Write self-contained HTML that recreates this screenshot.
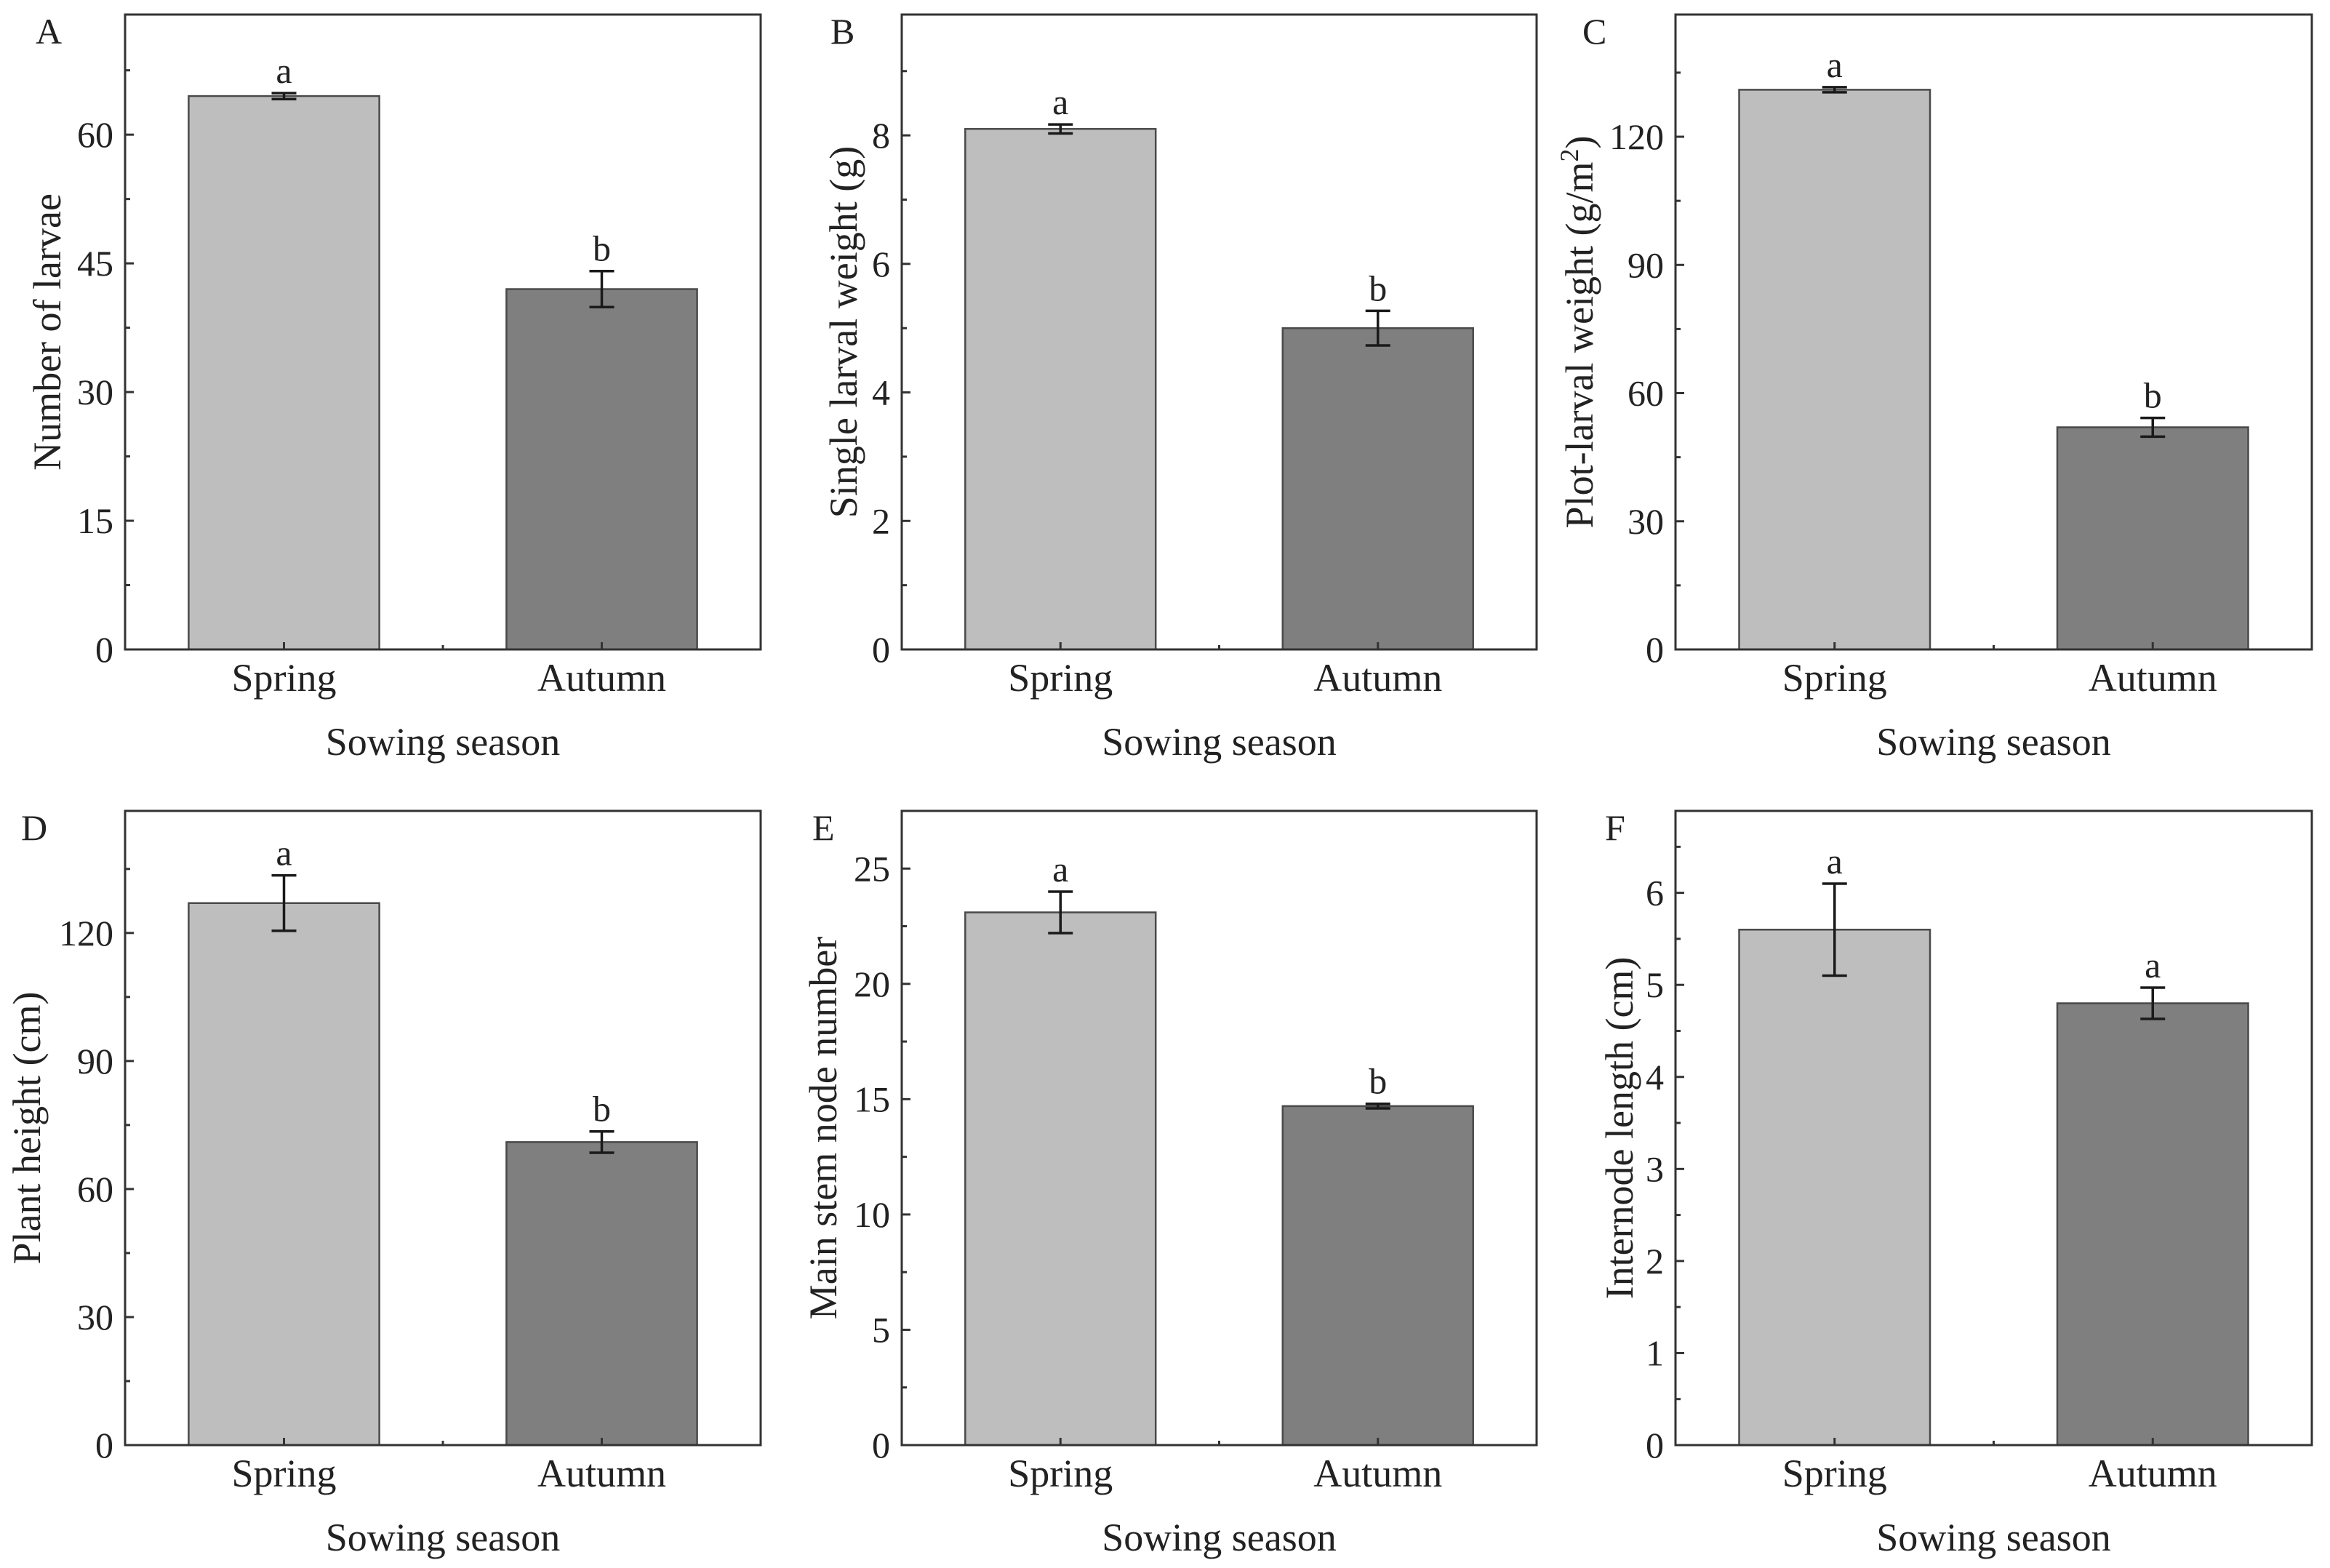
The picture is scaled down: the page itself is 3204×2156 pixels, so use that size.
<!DOCTYPE html>
<html><head><meta charset="utf-8"><style>
html,body{margin:0;padding:0;background:#fff}
svg{display:block}
text{font-family:"Liberation Serif",serif;fill:#222}
</style></head><body>
<svg id="fig" width="3204" height="2156" viewBox="0 0 3204 2156" xmlns="http://www.w3.org/2000/svg"></svg>
<script>
const categories = ["Spring","Autumn"];
const valuesA = [64.5, 42.0]; const errA = [0.35, 2.1]; const lettersA = ["a","b"];
const valuesB = [8.1, 5.0];   const errB = [0.07, 0.27]; const lettersB = ["a","b"];
const valuesC = [131, 52];    const errC = [0.6, 2.2];  const lettersC = ["a","b"];
const valuesD = [127, 71];    const errD = [6.5, 2.5];  const lettersD = ["a","b"];
const valuesE = [23.1, 14.7]; const errE = [0.9, 0.1];  const lettersE = ["a","b"];
const valuesF = [5.6, 4.8];   const errF = [0.5, 0.17]; const lettersF = ["a","a"];
const ticksA = [0,15,30,45,60]; const ticksB = [0,2,4,6,8]; const ticksC = [0,30,60,90,120];
const ticksD = [0,30,60,90,120]; const ticksE = [0,5,10,15,20,25]; const ticksF = [0,1,2,3,4,5,6];

const svg = document.getElementById('fig');
const NS = 'http://www.w3.org/2000/svg';
function mk(tag, attrs, parent){const e=document.createElementNS(NS,tag);for(const k in attrs)e.setAttribute(k,attrs[k]);(parent||svg).appendChild(e);return e;}

const panels = [
 {id:'a',L:'A',x0:172,x1:1046,y0:20,y1:893,max:74,minor:7.5,vals:valuesA,err:errA,let:lettersA,ticks:ticksA,title:'Number of larvae',tx:65,lx:49,ly:60},
 {id:'b',L:'B',x0:1240,x1:2113,y0:20,y1:893,max:9.88,minor:1,vals:valuesB,err:errB,let:lettersB,ticks:ticksB,title:'Single larval weight (g)',tx:1160,lx:1142,ly:60},
 {id:'c',L:'C',x0:2304,x1:3179,y0:20,y1:893,max:148.6,minor:15,vals:valuesC,err:errC,let:lettersC,ticks:ticksC,title:'Plot-larval weight (g/m',sup:true,tx:2172,lx:2176,ly:60},
 {id:'d',L:'D',x0:172,x1:1046,y0:1115,y1:1987,max:148.6,minor:15,vals:valuesD,err:errD,let:lettersD,ticks:ticksD,title:'Plant height (cm)',tx:37,lx:29,ly:1155},
 {id:'e',L:'E',x0:1240,x1:2113,y0:1115,y1:1987,max:27.5,minor:2.5,vals:valuesE,err:errE,let:lettersE,ticks:ticksE,title:'Main stem node number',tx:1132,lx:1117,ly:1155},
 {id:'f',L:'F',x0:2304,x1:3179,y0:1115,y1:1987,max:6.89,minor:0.5,vals:valuesF,err:errF,let:lettersF,ticks:ticksF,title:'Internode length (cm)',tx:2227,lx:2207,ly:1155}
];
const colors=['#bebebe','#7f7f7f'];

panels.forEach(p=>{
  const g=mk('g',{});
  
  
  const xs=v=>p.x0+(v-0.5)/2*(p.x1-p.x0);
  const ys=v=>p.y1-v/p.max*(p.y1-p.y0);
  p.vals.forEach((v,i)=>{
    const cx=xs(i+1), w=0.6/2*(p.x1-p.x0);
    const r=mk('rect',{x:cx-w/2,y:ys(v),width:w,height:ys(0)-ys(v),fill:colors[i],stroke:'#4a4a4a','stroke-width':2.5},g);
    
    
    const eg=mk('g',{stroke:'#1a1a1a','stroke-width':3.5,fill:'none'},g);
    
    
    const hi=ys(v+p.err[i]), lo=ys(v-p.err[i]);
    mk('line',{x1:cx,x2:cx,y1:hi,y2:lo},eg);
    mk('line',{x1:cx-17,x2:cx+17,y1:hi,y2:hi},eg);
    mk('line',{x1:cx-17,x2:cx+17,y1:lo,y2:lo},eg);
    const t=mk('text',{x:cx,y:hi-14,'text-anchor':'middle','font-size':50},g);
    t.textContent=p.let[i];
    
    
    mk('line',{x1:cx,x2:cx,y1:p.y1,y2:p.y1-10,stroke:'#333','stroke-width':3},g);
    const xl=mk('text',{x:cx,y:p.y1+57,'text-anchor':'middle','font-size':54},g);
    xl.textContent=categories[i];
    
    
  });
  mk('line',{x1:xs(1.5),x2:xs(1.5),y1:p.y1,y2:p.y1-6,stroke:'#333','stroke-width':3},g);
  for(let v=0; v<=p.max+1e-9; v+=p.minor){
    const major=p.ticks.some(t=>Math.abs(t-v)<1e-6);
    mk('line',{x1:p.x0,x2:p.x0+(major?12:7),y1:ys(v),y2:ys(v),stroke:'#333','stroke-width':3},g);
  }
  p.ticks.forEach(t=>{
    const tl=mk('text',{x:p.x0-16,y:ys(t)+17,'text-anchor':'end','font-size':50},g);
    tl.textContent=t;
    
    
  });
  const fr=mk('rect',{x:p.x0,y:p.y0,width:p.x1-p.x0,height:p.y1-p.y0,fill:'none',stroke:'#333','stroke-width':3},g);
  
  
  const cy=(p.y0+p.y1)/2;
  const yt=mk('text',{x:p.tx,y:cy,'text-anchor':'middle','font-size':54,transform:`rotate(-90 ${p.tx} ${cy})`,dy:18},g);
  yt.textContent=p.title;
  if(p.sup){const s=mk('tspan',{dy:-20,'font-size':36},yt);s.textContent='2';const s2=mk('tspan',{dy:20},yt);s2.textContent=')';}
  
  
  const xt=mk('text',{x:(p.x0+p.x1)/2,y:p.y1+145,'text-anchor':'middle','font-size':54},g);
  xt.textContent='Sowing season';
  
  
  const pl=mk('text',{x:p.lx,y:p.ly,'font-size':50},g);
  pl.textContent=p.L;
  
  
});
</script>
</body></html>
